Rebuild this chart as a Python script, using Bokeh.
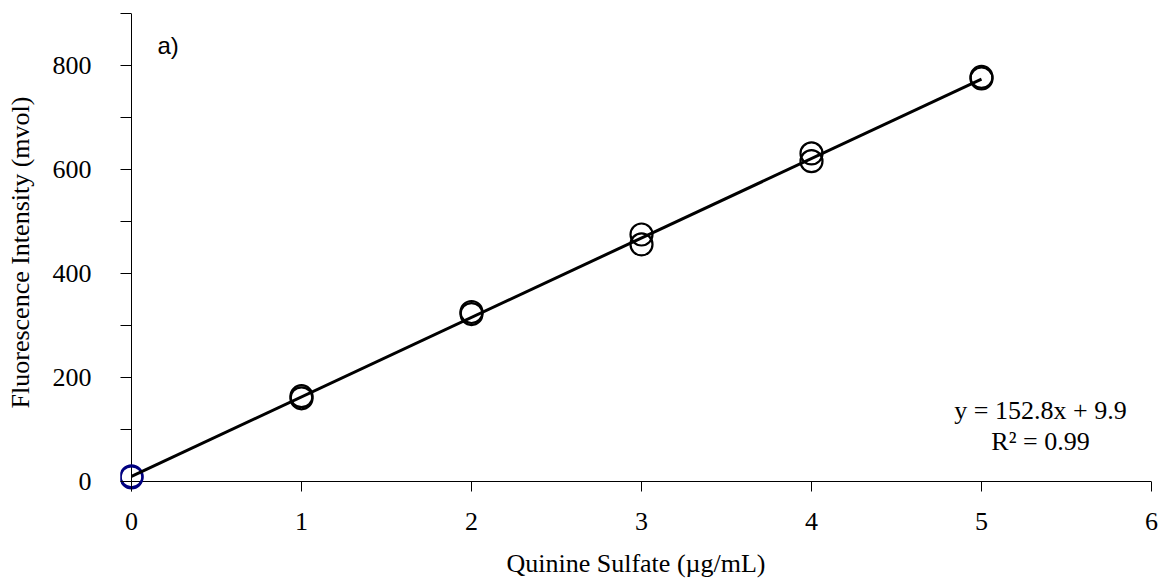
from bokeh.plotting import figure
from bokeh.models import Range1d, FixedTicker, ColumnDataSource, Span
from bokeh.core.properties import value
from bokeh.embed import file_html
from bokeh.resources import INLINE

# ---- data ----
conc = [0, 0, 1, 1, 2, 2, 3, 3, 4, 4, 5, 5]
intensity = [8, 10, 160, 164, 322, 326, 456, 475, 616, 631, 775, 778]
marker_colors = ["#000080", "#000080", "black", "black", "black", "black",
                 "black", "black", "black", "black", "black", "black"]
slope = 152.8
intercept = 9.9
fit_x = [0, 5]
x_ticks = [0, 1, 2, 3, 4, 5, 6]
y_ticks = [0, 200, 400, 600, 800]
y_minor = [100, 300, 500, 700, 900]
eq_lines = ["y = 152.8x + 9.9", "R\u00b2 = 0.99"]
eq_x = [5.347, 5.347]
eq_y = [137, 77]
panel_label = ["a)"]
panel_x = [0.153]
panel_y = [864]

fit_y = [slope * xx + intercept for xx in fit_x]

SERIF = "Liberation Serif"
FS = "26px"

# frame edges sit a tick length outside the zero lines so that the
# markers at the origin are not clipped; axis lines are drawn at zero.
p = figure(width=1162, height=588, output_backend="svg", toolbar_location=None,
           x_range=Range1d(-11 / 170, 6), y_range=Range1d(-10 / 0.52, 900),
           min_border_left=120, min_border_right=11, min_border_top=13,
           min_border_bottom=97)
p.outline_line_color = None
p.xgrid.visible = False
p.ygrid.visible = False
p.background_fill_color = "white"
p.border_fill_color = "white"

p.add_layout(Span(location=0, dimension="height", line_color="black",
                  line_width=1, level="underlay"))
p.add_layout(Span(location=0, dimension="width", line_color="black",
                  line_width=1, level="underlay"))

src = ColumnDataSource(dict(x=conc, y=intensity, c=marker_colors))
p.scatter("x", "y", source=src, marker="circle", size=22, fill_color=None,
          line_color="c", line_width=2.2)
p.line(fit_x, fit_y, line_color="black", line_width=3)

p.text(x=eq_x, y=eq_y, text=eq_lines, text_font=value(SERIF), text_font_size=FS,
       text_align="center", text_baseline="middle", text_color="black")
p.text(x=panel_x, y=panel_y, text=panel_label, text_font=value("Liberation Sans"),
       text_font_size="24px", text_align="left", text_baseline="top",
       text_color="black")

xa = p.xaxis[0]
xa.ticker = FixedTicker(ticks=x_ticks)
xa.axis_label = "Quinine Sulfate (\u00b5g/mL)"
xa.axis_line_color = None
xa.major_tick_out = 0
xa.major_tick_in = 10
xa.minor_tick_out = 0
xa.minor_tick_in = 0
xa.major_label_standoff = 21
xa.axis_label_standoff = 16

ya = p.yaxis[0]
ya.ticker = FixedTicker(ticks=y_ticks, minor_ticks=y_minor)
ya.axis_label = "Fluorescence Intensity (mvol)"
ya.axis_line_color = None
ya.major_tick_out = 0
ya.major_tick_in = 11
ya.minor_tick_out = 0
ya.minor_tick_in = 11
ya.major_label_standoff = 29
ya.axis_label_standoff = 15

for ax in (xa, ya):
    ax.major_tick_line_color = "black"
    ax.minor_tick_line_color = "black"
    ax.major_label_text_font = SERIF
    ax.major_label_text_font_size = FS
    ax.major_label_text_color = "black"
    ax.axis_label_text_font = SERIF
    ax.axis_label_text_font_size = FS
    ax.axis_label_text_font_style = "normal"
    ax.axis_label_text_color = "black"

open("out.html", "w").write(file_html(p, INLINE))
